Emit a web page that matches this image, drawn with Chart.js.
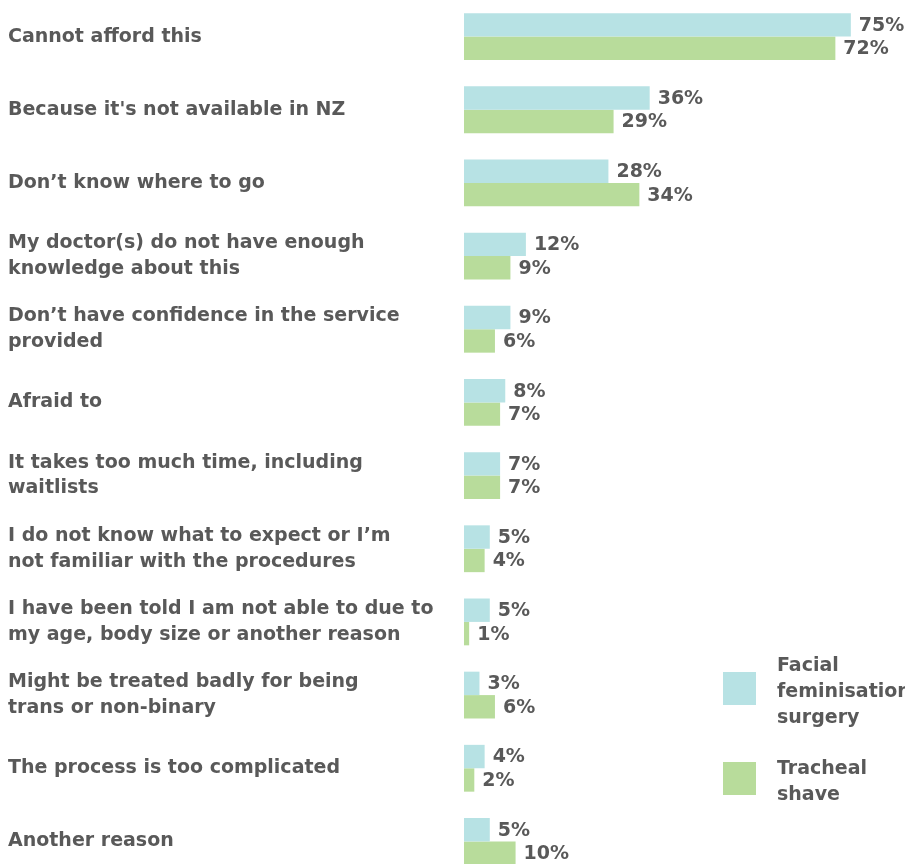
<!DOCTYPE html>
<html><head><meta charset="utf-8">
<script src="https://cdn.jsdelivr.net/npm/chart.js@4.4.1/dist/chart.umd.min.js"></script>
<style>
html,body{margin:0;padding:0;background:#fff;overflow:hidden;}
#wrap{position:relative;width:905px;height:878px;}
</style></head><body>
<div id="wrap"><canvas id="c"></canvas></div>
<script>
const categories = [
  ["Cannot afford this"],
  ["Because it's not available in NZ"],
  ["Don’t know where to go"],
  ["My doctor(s) do not have enough", "knowledge about this"],
  ["Don’t have confidence in the service", "provided"],
  ["Afraid to"],
  ["It takes too much time, including", "waitlists"],
  ["I do not know what to expect or I’m", "not familiar with the procedures"],
  ["I have been told I am not able to due to", "my age, body size or another reason"],
  ["Might be treated badly for being", "trans or non-binary"],
  ["The process is too complicated"],
  ["Another reason"]
];
const facialValues = [75, 36, 28, 12, 9, 8, 7, 5, 5, 3, 4, 5];
const trachealValues = [72, 29, 34, 9, 6, 7, 7, 4, 1, 6, 2, 10];
const facialLegend = ["Facial", "feminisation", "surgery"];
const trachealLegend = ["Tracheal", "shave"];

const FONT = '"DejaVu Sans", sans-serif';
const WEIGHT = '700';
const SIZE = 19;
const TEXT = '#595959';

const valueLabels = {
  id: 'valueLabels',
  afterDatasetsDraw(chart) {
    const ctx = chart.ctx;
    ctx.save();
    ctx.font = WEIGHT + ' ' + SIZE + 'px ' + FONT;
    ctx.fillStyle = TEXT;
    ctx.textBaseline = 'middle';
    ctx.textAlign = 'left';
    chart.data.datasets.forEach((ds, i) => {
      chart.getDatasetMeta(i).data.forEach((el, j) => {
        ctx.fillText(ds.data[j] + '%', el.x + 8, el.y + 1);
      });
    });
    ctx.restore();
  }
};

const sideLegend = {
  id: 'sideLegend',
  afterDraw(chart) {
    const ctx = chart.ctx;
    ctx.save();
    ctx.font = WEIGHT + ' ' + SIZE + 'px ' + FONT;
    ctx.textBaseline = 'alphabetic';
    ctx.textAlign = 'left';
    const boxTops = [672, 762];
    chart.data.datasets.forEach((ds, i) => {
      const top = boxTops[i];
      ctx.fillStyle = ds.backgroundColor;
      ctx.fillRect(723, top, 33, 33);
      ctx.fillStyle = TEXT;
      const lines = ds.legendLines;
      const center = top + 18;
      const first = center + 7 - (lines.length - 1) * 13;
      lines.forEach((ln, k) => ctx.fillText(ln, 777, first + k * 26));
    });
    ctx.restore();
  }
};

new Chart(document.getElementById('c'), {
  type: 'bar',
  data: {
    labels: categories,
    datasets: [
      { label: facialLegend.join(' '), legendLines: facialLegend, data: facialValues,
        backgroundColor: '#b7e2e4', categoryPercentage: 0.64, barPercentage: 1 },
      { label: trachealLegend.join(' '), legendLines: trachealLegend, data: trachealValues,
        backgroundColor: '#b8dc9b', categoryPercentage: 0.64, barPercentage: 1 }
    ]
  },
  options: {
    indexAxis: 'y',
    responsive: true,
    maintainAspectRatio: false,
    animation: false,
    layout: { padding: { left: 8, right: 0, top: 0, bottom: 0 } },
    plugins: { legend: { display: false }, tooltip: { enabled: false } },
    scales: {
      x: { display: false, min: 0, max: 85.5 },
      y: {
        grid: { display: false },
        border: { display: false },
        ticks: {
          autoSkip: false,
          crossAlign: 'far',
          padding: 0,
          color: TEXT,
          font: { family: FONT, size: SIZE, weight: WEIGHT, lineHeight: 1.35 }
        },
        afterFit(s) { s.width = 456; s.paddingTop = 0; s.paddingBottom = 0; }
      }
    }
  },
  plugins: [valueLabels, sideLegend]
});
</script>
</body></html>
